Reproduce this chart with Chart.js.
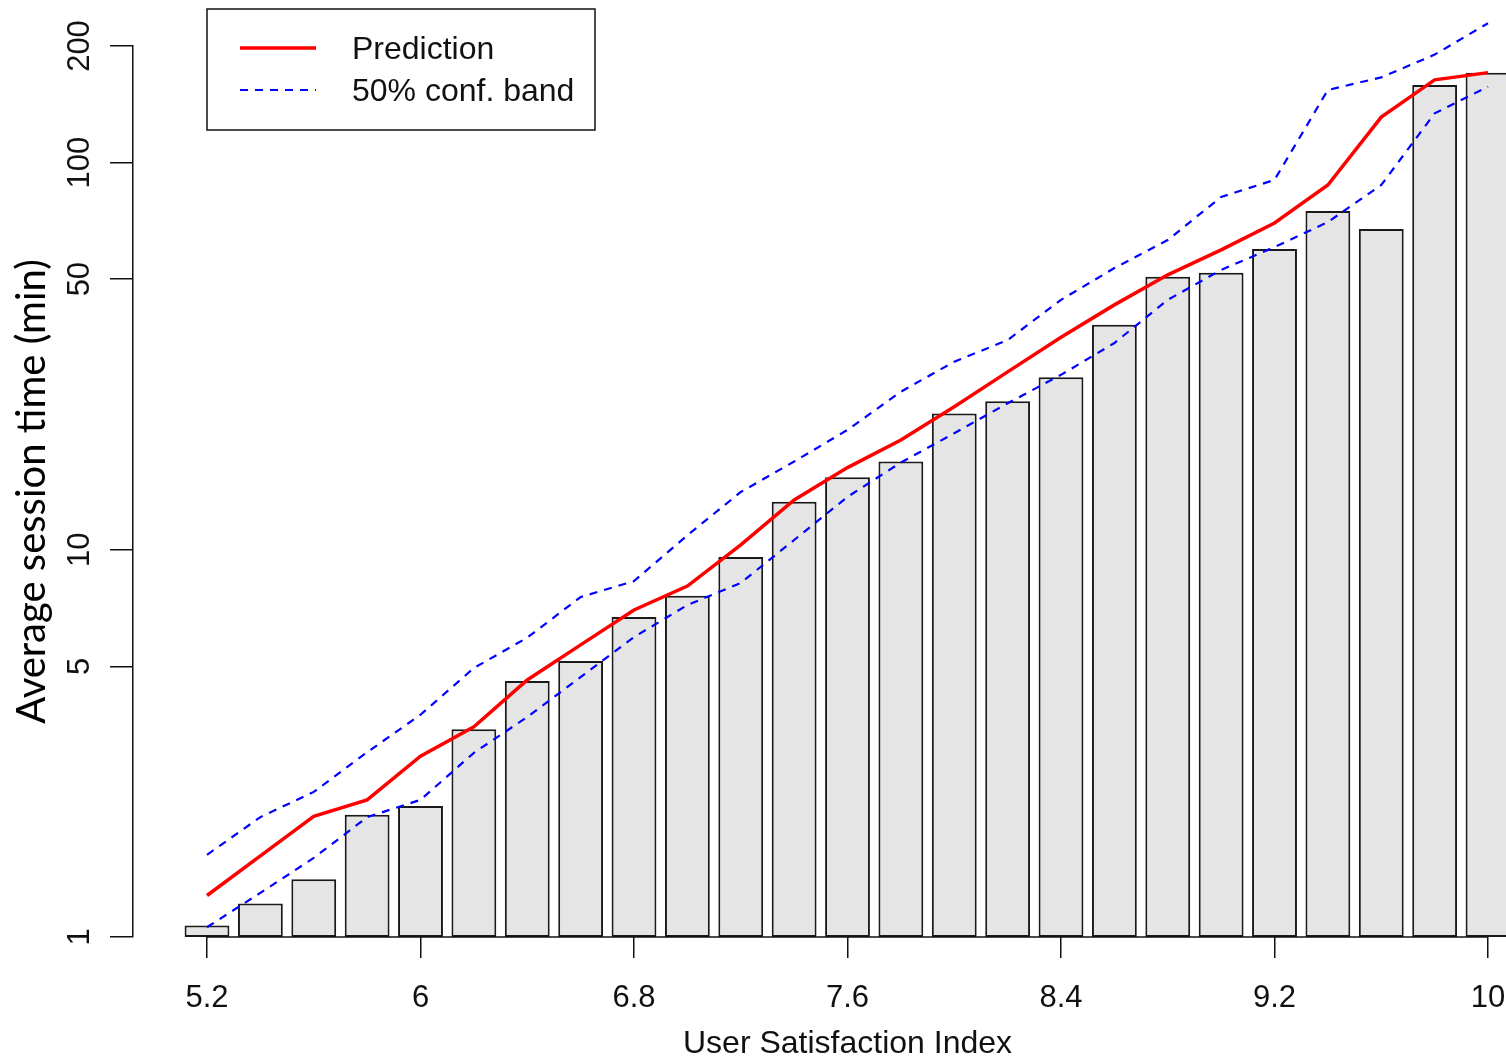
<!DOCTYPE html>
<html>
<head>
<meta charset="utf-8">
<title>Average session time by user satisfaction</title>
<script src="https://cdn.jsdelivr.net/npm/chart.js@4.4.1/dist/chart.umd.min.js"></script>
<style>
  html, body { margin: 0; padding: 0; background: #fff; }
  #wrap { width: 1506px; height: 1060px; overflow: hidden; }
</style>
</head>
<body>
<div id="wrap"><canvas id="sessionChart" width="1506" height="1060"></canvas></div>
<script>
// satisfaction index bins (bar centres)
const satisfaction = [5.2, 5.4, 5.6, 5.8, 6.0, 6.2, 6.4, 6.6, 6.8, 7.0, 7.2, 7.4, 7.6,
  7.8, 8.0, 8.2, 8.4, 8.6, 8.8, 9.0, 9.2, 9.4, 9.6, 9.8, 10.0];

// observed average session time per bin (min)
const avgSession = [1.07, 1.22, 1.41, 2.07, 2.18, 3.44, 4.58, 5.16, 6.71, 7.61, 9.58, 13.3,
  15.4, 16.9, 22.5, 24.2, 27.9, 38.1, 50.7, 51.9, 59.8, 75.0, 67.4, 158.6, 170.7];

// model prediction and its 50% confidence band
const prediction = [1.28, 1.62, 2.05, 2.26, 2.93, 3.49, 4.61, 5.68, 6.99, 8.06, 10.3, 13.45,
  16.3, 19.2, 23.4, 28.8, 35.4, 42.9, 51.3, 59.5, 69.8, 87.5, 131, 163.5, 170.7];
const bandUpper = [1.63, 2.04, 2.37, 3.0, 3.75, 4.95, 5.93, 7.55, 8.3, 10.9, 14.1, 16.9,
  20.4, 25.6, 30.6, 34.8, 44.2, 53.4, 63.1, 81.5, 90.2, 154, 166, 190, 229];
const bandLower = [1.06, 1.30, 1.60, 2.04, 2.26, 2.99, 3.70, 4.69, 5.95, 7.20, 8.21, 10.6,
  13.7, 16.8, 20.0, 23.9, 28.3, 34.2, 44.2, 52.8, 60.5, 70.2, 87.5, 134, 157];

const xTicks = [5.2, 6, 6.8, 7.6, 8.4, 9.2, 10];
const xTickLabels = ['5.2', '6', '6.8', '7.6', '8.4', '9.2', '10'];
const yTicks = [1, 5, 10, 50, 100, 200];
const yTickLabels = ['1', '5', '10', '50', '100', '200'];

const xTitle = 'User Satisfaction Index';
const yTitle = 'Average session time (min)';
const legendLabels = ['Prediction', '50% conf. band'];

const points = (ys) => satisfaction.map((x, i) => ({ x: x, y: ys[i] }));

// x axis line and title only span the labelled range
const xAxisExtras = {
  id: 'xAxisExtras',
  afterDatasetsDraw(chart) {
    const ctx = chart.ctx;
    const xs = chart.scales.x;
    const x0 = xs.getPixelForValue(xTicks[0]);
    const x1 = xs.getPixelForValue(xTicks[xTicks.length - 1]);
    const y = chart.chartArea.bottom;
    ctx.save();
    ctx.strokeStyle = '#111';
    ctx.lineWidth = 1.5;
    ctx.beginPath();
    ctx.moveTo(x0, y);
    ctx.lineTo(x1, y);
    ctx.stroke();
    ctx.fillStyle = '#111';
    ctx.font = '32px "Liberation Sans", Arial, sans-serif';
    ctx.textAlign = 'center';
    ctx.textBaseline = 'middle';
    ctx.fillText(xTitle, (x0 + x1) / 2, xs.bottom - 16);
    ctx.restore();
  }
};

// boxed legend in the top-left corner
const legendBox = {
  id: 'legendBox',
  afterDraw(chart) {
    const ctx = chart.ctx;
    ctx.save();
    ctx.strokeStyle = '#111';
    ctx.lineWidth = 1.5;
    ctx.strokeRect(207, 9, 388, 121);
    legendLabels.forEach((label, i) => {
      const ds = chart.data.datasets.find((d) => d.label === label);
      const y = 48 + i * 42;
      ctx.beginPath();
      ctx.strokeStyle = ds.borderColor;
      ctx.lineWidth = ds.borderWidth;
      ctx.setLineDash(ds.borderDash || []);
      ctx.moveTo(240, y);
      ctx.lineTo(316, y);
      ctx.stroke();
      ctx.setLineDash([]);
      ctx.fillStyle = '#111';
      ctx.font = '32px "Liberation Sans", Arial, sans-serif';
      ctx.textBaseline = 'middle';
      ctx.fillText(label, 352, y + 2);
    });
    ctx.restore();
  }
};

Chart.defaults.font.family = '"Liberation Sans", Arial, sans-serif';
Chart.defaults.color = '#111';

new Chart(document.getElementById('sessionChart'), {
  type: 'bar',
  data: {
    datasets: [
      {
        type: 'line',
        label: 'Prediction',
        data: points(prediction),
        borderColor: '#ff0000',
        borderWidth: 3.5,
        pointRadius: 0,
        tension: 0,
        clip: false,
        order: 0,
      },
      {
        type: 'line',
        label: '50% conf. band',
        data: points(bandUpper),
        borderColor: '#0000ff',
        borderWidth: 2.2,
        borderDash: [8, 7],
        pointRadius: 0,
        tension: 0,
        clip: false,
        order: 1,
      },
      {
        type: 'line',
        label: '50% conf. band (lower)',
        data: points(bandLower),
        borderColor: '#0000ff',
        borderWidth: 2.2,
        borderDash: [8, 7],
        pointRadius: 0,
        tension: 0,
        clip: false,
        order: 1,
      },
      {
        type: 'bar',
        label: 'Average session time',
        data: points(avgSession),
        backgroundColor: '#e5e5e5',
        borderColor: '#1a1a1a',
        borderWidth: 2,
        borderSkipped: false,
        barPercentage: 0.84,
        categoryPercentage: 1,
        order: 2,
      },
    ],
  },
  options: {
    responsive: false,
    animation: false,
    layout: { padding: { top: 46, right: 0, bottom: 0, left: 0 } },
    plugins: {
      legend: { display: false },
      tooltip: { enabled: false },
    },
    scales: {
      x: {
        type: 'linear',
        min: 4.9227,
        max: 10.0674,
        offset: false,
        afterBuildTicks: (scale) => {
          scale.ticks = xTicks.map((v) => ({ value: v }));
        },
        afterFit: (scale) => {
          scale.height = 123;
          // the last bar runs off the right edge, so no room is kept for labels
          scale.paddingLeft = 0;
          scale.paddingRight = 0;
        },
        ticks: {
          autoSkip: false,
          maxRotation: 0,
          padding: 22,
          font: { size: 31 },
          callback: (value, index) => xTickLabels[index],
        },
        grid: {
          display: true,
          offset: false,
          drawOnChartArea: false,
          tickLength: 21,
          color: '#111',
          lineWidth: 1.5,
        },
        border: { display: false },
        title: { display: false },
      },
      y: {
        type: 'logarithmic',
        min: 1,
        max: 200,
        afterBuildTicks: (scale) => {
          scale.ticks = yTicks.map((v) => ({ value: v }));
        },
        afterFit: (scale) => {
          scale.width = 133;
        },
        ticks: {
          minRotation: 90,
          maxRotation: 90,
          crossAlign: 'center',
          padding: 4,
          font: { size: 31 },
          callback: (value, index) => yTickLabels[index],
        },
        grid: {
          display: true,
          drawOnChartArea: false,
          tickLength: 23,
          color: '#111',
          lineWidth: 1.5,
        },
        border: { display: true, color: '#111', width: 1.5 },
        title: {
          display: true,
          text: yTitle,
          color: '#000',
          font: { family: 'Lato, "Open Sans", sans-serif', size: 40 },
          padding: { top: 8, bottom: 0 },
        },
      },
    },
  },
  plugins: [xAxisExtras, legendBox],
});
</script>
</body>
</html>
